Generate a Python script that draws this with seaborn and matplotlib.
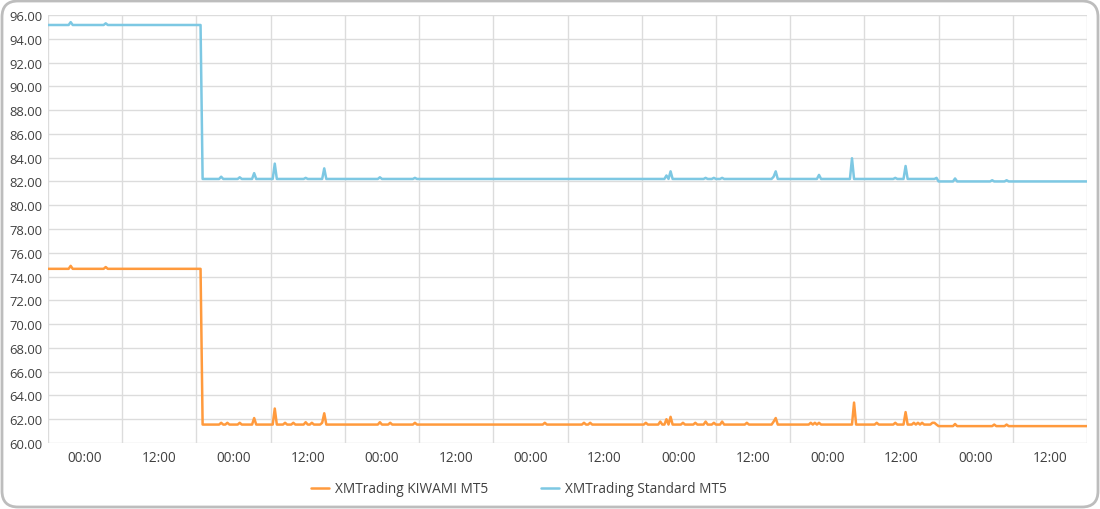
import numpy as np
import pandas as pd
import matplotlib
matplotlib.use("Agg")
import matplotlib.pyplot as plt
from matplotlib.patches import FancyBboxPatch
from matplotlib.transforms import IdentityTransform
import seaborn as sns

# ---------------- data (hours relative to the first 00:00 label) ----------------
series_names = ["XMTrading KIWAMI MT5", "XMTrading Standard MT5"]
sample_step_h = 1 / 3  # 20-minute samples
time_start_h = -6.0
time_end_h = 162.0

# level segments: (start hour, value)
kiwami_level_hours = [-6.0, 18.8, 137.9]
kiwami_level_values = [74.65, 61.55, 61.42]
standard_level_hours = [-6.0, 18.8, 137.9]
standard_level_values = [95.16, 82.21, 82.00]

# spikes (hour, value)
kiwami_spike_hours = [-2.4, 3.2, 22.1, 22.9, 24.9, 27.3, 30.6, 32.2, 33.6, 35.6, 36.8,
                      38.3, 38.7, 47.7, 49.3, 53.5, 74.3, 80.8, 81.8, 90.5, 93.0, 94.0,
                      94.7, 96.8, 98.6, 100.3, 101.8, 103.1, 107.1, 111.2, 111.8, 117.4,
                      118.1, 118.8, 124.2, 128.1, 131.1, 132.6, 134.1, 134.5, 135.3,
                      137.1, 137.5, 140.6, 146.9, 149.1]
kiwami_spike_values = [74.9, 74.8, 61.7, 61.7, 61.7, 62.1, 62.9, 61.7, 61.7, 61.75, 61.7,
                       61.7, 62.5, 61.75, 61.7, 61.7, 61.7, 61.7, 61.7, 61.7, 61.8, 62.0,
                       62.2, 61.7, 61.7, 61.8, 61.7, 61.8, 61.7, 61.8, 62.1, 61.7,
                       61.7, 61.7, 63.4, 61.7, 61.7, 62.6, 61.7, 61.7, 61.7,
                       61.7, 61.7, 61.6, 61.55, 61.55]
standard_spike_hours = [-2.4, 3.2, 22.0, 25.0, 27.3, 30.5, 35.6, 38.7, 47.8, 53.5, 94.0,
                        94.7, 100.4, 101.8, 103.1, 111.4, 111.8, 118.8, 124.1, 130.9,
                        132.6, 137.6, 140.6, 146.8, 149.1]
standard_spike_values = [95.4, 95.3, 82.4, 82.35, 82.7, 83.5, 82.3, 83.1, 82.35, 82.3, 82.5,
                         82.85, 82.3, 82.3, 82.3, 82.4, 82.85, 82.55, 83.95, 82.3,
                         83.3, 82.3, 82.25, 82.1, 82.1]

major_tick_hours = list(range(0, 157, 12))
x_tick_labels = ["00:00", "12:00"] * 7
y_ticks = list(range(60, 97, 2))

colors = ["#FF9A3D", "#7DC8E3"]


def build_series(level_hours, level_values, spike_hours, spike_values):
    n = int(round((time_end_h - time_start_h) / sample_step_h)) + 1
    hours = time_start_h + np.arange(n) * sample_step_h
    vals = np.empty(n)
    for h0, v in zip(level_hours, level_values):
        vals[hours >= h0 - 1e-9] = v
    for h, v in zip(spike_hours, spike_values):
        i = int(round((h - time_start_h) / sample_step_h))
        vals[i] = v
    return hours, vals


frames = []
for name, lh, lv, sh, sv in [
    (series_names[0], kiwami_level_hours, kiwami_level_values, kiwami_spike_hours, kiwami_spike_values),
    (series_names[1], standard_level_hours, standard_level_values, standard_spike_hours, standard_spike_values),
]:
    h, v = build_series(lh, lv, sh, sv)
    frames.append(pd.DataFrame({"hour": h, "value": v, "series": name}))
df = pd.concat(frames, ignore_index=True)

# ---------------- plot ----------------
sns.set_theme(style="white")
plt.rcParams["font.family"] = ["Open Sans", "DejaVu Sans"]

fig = plt.figure(figsize=(11, 5.1), dpi=100)
ax = fig.add_axes([48 / 1100, 1 - 444 / 510, (1087 - 48) / 1100, (444 - 16) / 510])

sns.lineplot(data=df, x="hour", y="value", hue="series", hue_order=series_names,
             palette=colors, linewidth=1.8, ax=ax, legend=True)

ax.set_xlim(time_start_h, time_end_h)
ax.set_ylim(60, 96)
ax.set_xticks(major_tick_hours)
ax.set_xticklabels(x_tick_labels)
ax.set_xticks(np.arange(time_start_h, time_end_h + 0.1, 12), minor=True)
ax.set_yticks(y_ticks)
ax.set_yticklabels([f"{t:.2f}" for t in y_ticks])
ax.grid(False)
ax.grid(axis="x", which="minor", color="#dcdcdc", linewidth=1.0)
ax.grid(axis="y", which="major", color="#dcdcdc", linewidth=1.0)
ax.set_axisbelow(True)
for s in ax.spines.values():
    s.set_visible(False)
ax.tick_params(axis="both", which="both", length=0, colors="#404040")
ax.tick_params(axis="x", labelsize=9.8, pad=5)
ax.tick_params(axis="y", labelsize=9.4, pad=4)
ax.set_xlabel("")
ax.set_ylabel("")

leg = ax.legend(loc="center", bbox_to_anchor=(0.453, -0.107), ncol=2, frameon=False,
                fontsize=9.8, handlelength=1.35, columnspacing=3.9, handletextpad=0.4,
                borderpad=0.0)
for t in leg.get_texts():
    t.set_color("#404040")

border = FancyBboxPatch((2, 2), 1096, 506, boxstyle="round,pad=0,rounding_size=16",
                        transform=IdentityTransform(), fill=False, edgecolor="#bdbdbd",
                        linewidth=2)
fig.patches.append(border)

fig.savefig("out.png", dpi=100)
